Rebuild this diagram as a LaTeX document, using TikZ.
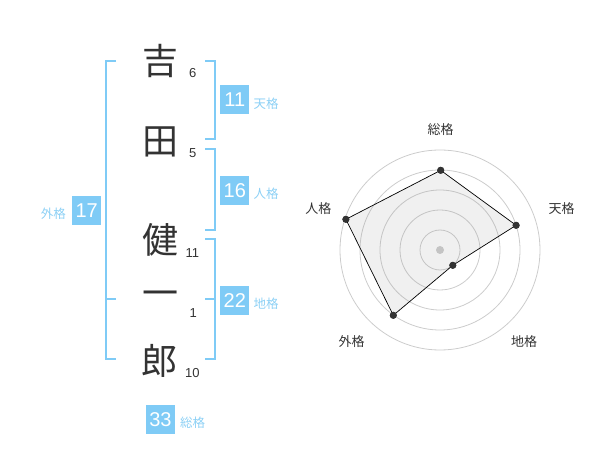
\documentclass[tikz,border=0pt]{standalone}
\usepackage{fontspec}
\setmainfont{Liberation Sans}
\newfontfamily\cjk{Noto Sans CJK JP}
\definecolor{blu}{HTML}{7FCBF6}
\definecolor{blulab}{HTML}{8CD0F5}
\definecolor{ink}{HTML}{333333}
\definecolor{ring}{HTML}{CCCCCC}
\begin{document}
\begin{tikzpicture}[x=1pt,y=-1pt,
  kanji/.style={font=\cjk\fontsize{36}{36}\selectfont, text=ink, inner sep=0pt},
  stroke/.style={font=\fontsize{13}{13}\selectfont, text=ink, inner sep=0pt},
  numbox/.style={fill=blu, text=white, minimum size=29pt, inner sep=0pt, font=\fontsize{20}{20}\selectfont},
  lab/.style={font=\cjk\fontsize{12.5}{12.5}\selectfont, text=blulab, inner sep=0pt},
  brk/.style={draw=blu, line width=2pt},
  rlab/.style={font=\cjk\fontsize{13}{13}\selectfont, text=ink, inner sep=0pt},
  ringc/.style={draw=ring, line width=0.8pt},
  dot/.style={circle, fill=ink, minimum size=7pt, inner sep=0pt}]
\useasboundingbox (0,0) rectangle (600,470);
% characters
\node[kanji] (c1) at (160,61) {吉};
\node[kanji] (c2) at (160,141.5) {田};
\node[kanji] (c3) at (160,240) {健};
\node[kanji] (c4) at (160,299) {一};
\node[kanji] (c5) at (159,361) {郎};
% stroke counts
\node[stroke] (s1) at (192.7,72.7) {6};
\node[stroke] (s2) at (192.7,152.7) {5};
\node[stroke] (s3) at (192.3,252.7) {11};
\node[stroke] (s4) at (193.3,313.3) {1};
\node[stroke] (s5) at (192.3,372.7) {10};
% brackets
\coordinate (lt) at (116,61);
\coordinate (lb) at (116,359);
\draw[brk] (lt) -- (106,61) -- (106,359) -- (lb);
\draw[brk] (106,299) -- (116,299);
\draw[brk] (205,61) -- (214.5,61) -- (214.5,139) -- (205,139);
\draw[brk] (205,149) -- (214.5,149) -- (214.5,230) -- (205,230);
\draw[brk] (205,239) -- (214.5,239) -- (214.5,359) -- (205,359);
\draw[brk] (205,299) -- (214.5,299);
% boxes
\node[numbox] (b11) at (234.8,100) {11};
\node[lab] (l11) at (266,104) {天格};
\node[numbox] (b16) at (234.8,190.5) {16};
\node[lab] (l16) at (266,194) {人格};
\node[numbox] (b17) at (86.7,210.3) {17};
\node[lab] (l17) at (53.3,213.3) {外格};
\node[numbox] (b22) at (234.8,300.5) {22};
\node[lab] (l22) at (266,304) {地格};
\node[numbox] (b33) at (160.5,419.5) {33};
\node[lab] (l33) at (192.5,423) {総格};
% radar
\coordinate (O) at (440,250);
\foreach \r in {20,40,60,80,100} \draw[ringc] (O) circle[radius=\r];
\fill[ring] (O) circle[radius=4];
\node[dot] (pS) at (440.7,170.3) {};
\node[dot] (pT) at (516.1,225.3) {};
\node[dot] (pC) at (452.8,265.3) {};
\node[dot] (pG) at (393.3,315.3) {};
\node[dot] (pJ) at (345.9,219.3) {};
\fill[black!40, fill opacity=0.15] (pS.center) -- (pT.center) -- (pC.center) -- (pG.center) -- (pJ.center) -- cycle;
\draw[black, line width=0.7pt] (pS.center) -- (pT.center) -- (pC.center) -- (pG.center) -- (pJ.center) -- cycle;
\foreach \p in {pS,pT,pC,pG,pJ} \fill[ink] (\p) circle[radius=3.5];
\node[rlab] (rS) at (440.7,130) {総格};
\node[rlab] (rT) at (561.7,208.3) {天格};
\node[rlab] (rJ) at (318.3,208.3) {人格};
\node[rlab] (rG) at (351.7,341.7) {外格};
\node[rlab] (rC) at (524,341.7) {地格};
\end{tikzpicture}
\end{document}
